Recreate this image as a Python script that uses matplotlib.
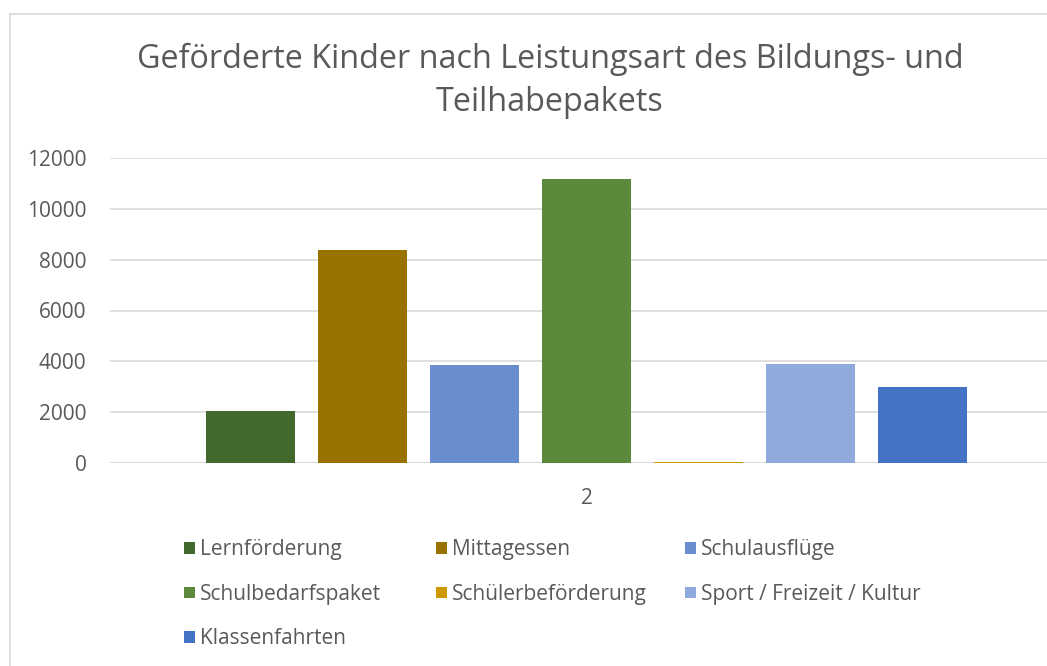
import matplotlib.pyplot as plt
from matplotlib.lines import Line2D

plt.rcParams['font.family'] = ['Open Sans', 'DejaVu Sans']

title = 'Geförderte Kinder nach Leistungsart des Bildungs- und\nTeilhabepakets'
category = '2'
series = ['Lernförderung', 'Mittagessen', 'Schulausflüge', 'Schulbedarfspaket',
          'Schülerbeförderung', 'Sport / Freizeit / Kultur', 'Klassenfahrten']
values = [2050, 8380, 3860, 11160, 50, 3900, 3000]
colors = ['#43682B', '#997300', '#698ED0', '#5B8A3C', '#CC9A00', '#8FAADC', '#4472C4']
yticks = [0, 2000, 4000, 6000, 8000, 10000, 12000]

text_color = '#595959'
grid_color = '#D9D9D9'

W, H = 1047, 666
fig = plt.figure(figsize=(W / 100, H / 100), dpi=100)

# outer chart border (cropped on the right and bottom)
fig.add_artist(Line2D([9.5 / W, 9.5 / W], [0, 1 - 13.5 / H], transform=fig.transFigure,
                      color=grid_color, lw=1.2))
fig.add_artist(Line2D([9.5 / W, 1], [1 - 13.5 / H, 1 - 13.5 / H], transform=fig.transFigure,
                      color=grid_color, lw=1.2))

left, right = 110 / W, 1063 / W
bottom, top = (H - 463.3) / H, (H - 157.7) / H
ax = fig.add_axes([left, bottom, right - left, top - bottom])

step = 112
width = 89 / step
half = (1063 - 110) / 2 / step
handles = []
for i, (name, v, c) in enumerate(zip(series, values, colors)):
    b = ax.bar(i, v, width=width, color=c, label=name, zorder=3)
    handles.append(b)

ax.set_xlim(3 - half, 3 + half)
ax.set_ylim(0, 12000)
ax.set_yticks(yticks)
ax.set_yticklabels([str(t) for t in yticks])
ax.set_xticks([3])
ax.set_xticklabels([category])
ax.grid(axis='y', color=grid_color, lw=1.2, zorder=0)
for s in ax.spines.values():
    s.set_visible(False)
ax.axhline(0, color=grid_color, lw=1.5, zorder=2)
ax.tick_params(axis='y', length=0, pad=17, labelsize=15, labelcolor=text_color)
ax.tick_params(axis='x', length=0, pad=18, labelsize=15, labelcolor=text_color)

fig.text(550 / W, 1 - 81 / H, title, ha='center', va='center', fontsize=23.3,
         color=text_color, linespacing=1.42)

# legend: three columns, filled row by row like the reference
columns = [[0, 3, 6], [1, 4], [2, 5]]
col_x = [176, 428, 677]
for idx, cx in zip(columns, col_x):
    leg = fig.legend([handles[i] for i in idx], [series[i] for i in idx],
                     loc='upper left', bbox_to_anchor=(cx / W, 1 - 531 / H), frameon=False,
                     fontsize=15, labelcolor=text_color, handlelength=0.5, handleheight=0.5,
                     handletextpad=0.25, labelspacing=1.13, borderaxespad=0)

fig.savefig('out.png', dpi=100)
